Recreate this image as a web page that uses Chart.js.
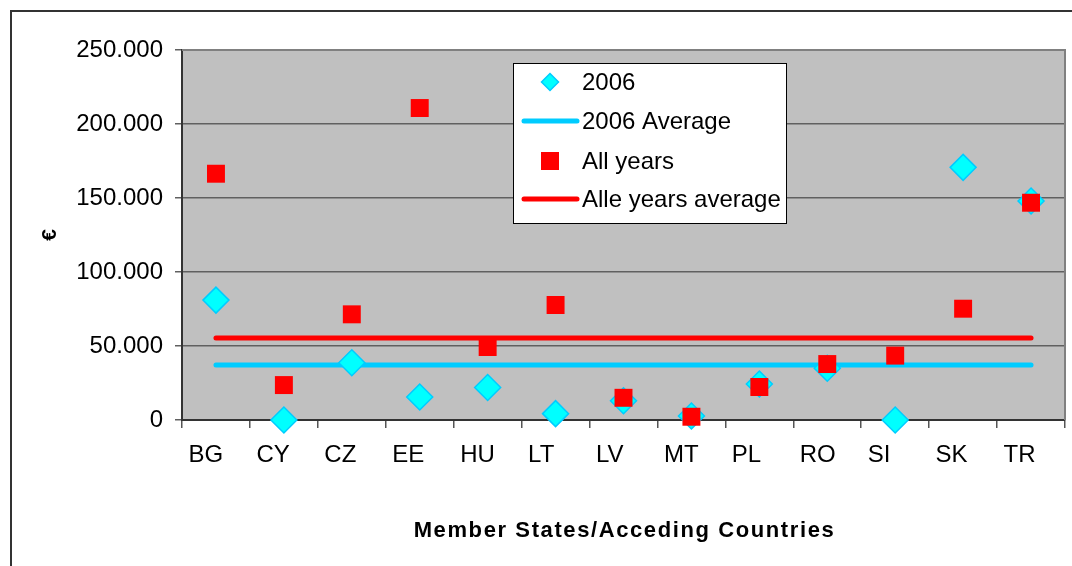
<!DOCTYPE html>
<html>
<head>
<meta charset="utf-8">
<script src="https://cdn.jsdelivr.net/npm/chart.js@4.4.1/dist/chart.umd.min.js"></script>
<style>
  html, body { margin: 0; padding: 0; background: #ffffff; }
  #wrap { width: 1072px; height: 566px; position: relative; }
</style>
</head>
<body>
<div id="wrap"><canvas id="c" width="1072" height="566"></canvas></div>
<script>
const categories = ['BG', 'CY', 'CZ', 'EE', 'HU', 'LT', 'LV', 'MT', 'PL', 'RO', 'SI', 'SK', 'TR'];
const values2006 = [81000, 0, 38700, 15500, 22000, 4300, 13000, 2700, 24300, 35000, 0, 170700, 148000];
const valuesAllYears = [166400, 23600, 71400, 210800, 49300, 77700, 15000, 2200, 22300, 37800, 43500, 75200, 146800];
const average2006 = [37200, 37200, 37200, 37200, 37200, 37200, 37200, 37200, 37200, 37200, 37200, 37200, 37200];
const averageAllYears = [55400, 55400, 55400, 55400, 55400, 55400, 55400, 55400, 55400, 55400, 55400, 55400, 55400];
const labels = ['2006', '2006 Average', 'All years', 'Alle years average'];
const xTitle = 'Member States/Acceding Countries';
const yTitle = '€';

const FONT = "'Liberation Sans', Arial, sans-serif";
const CYAN = '#00FFFF';
const CYAN_EDGE = '#00CCFF';
const BLUE_LINE = '#00CCFF';
const RED = '#FF0000';

function fmt(v) {
  return String(v).replace(/\B(?=(\d{3})+(?!\d))/g, '.');
}

const framePlugin = {
  id: 'frame',
  beforeDraw(chart) {
    const ctx = chart.ctx;
    const a = chart.chartArea;
    ctx.save();
    ctx.fillStyle = '#C0C0C0';
    ctx.fillRect(a.left, a.top, a.right - a.left, a.bottom - a.top);
    ctx.strokeStyle = '#333333';
    ctx.lineWidth = 2;
    ctx.beginPath();
    ctx.moveTo(11, 566);
    ctx.lineTo(11, 11);
    ctx.lineTo(1072, 11);
    ctx.stroke();
    ctx.restore();
  },
  beforeDatasetsDraw(chart) {
    const ctx = chart.ctx;
    const a = chart.chartArea;
    ctx.save();
    ctx.strokeStyle = '#808080';
    ctx.lineWidth = 2;
    ctx.beginPath();
    ctx.moveTo(a.left, a.top);
    ctx.lineTo(a.right, a.top);
    ctx.lineTo(a.right, a.bottom);
    ctx.stroke();
    ctx.restore();
  },
  afterDraw(chart) {
    const ctx = chart.ctx;
    const a = chart.chartArea;
    ctx.save();
    ctx.fillStyle = '#000000';
    ctx.font = 'bold 22px ' + FONT;
    ctx.textAlign = 'center';
    ctx.textBaseline = 'middle';
    try { ctx.letterSpacing = '1.6px'; } catch (e) {}
    ctx.fillText(xTitle, (a.left + a.right) / 2 + 1, 531);
    try { ctx.letterSpacing = '0px'; } catch (e) {}
    ctx.translate(50, (a.top + a.bottom) / 2);
    ctx.rotate(-Math.PI / 2);
    ctx.font = 'bold 21px ' + FONT;
    ctx.fillText(yTitle, 0, 0);
    ctx.restore();
  }
};

const legendPlugin = {
  id: 'insideLegend',
  afterDraw(chart) {
    const ctx = chart.ctx;
    ctx.save();
    const bx = 513, by = 63, bw = 274, bh = 161;
    ctx.fillStyle = '#ffffff';
    ctx.fillRect(bx, by, bw, bh);
    ctx.strokeStyle = '#000000';
    ctx.lineWidth = 1;
    ctx.strokeRect(bx + 0.5, by + 0.5, bw - 1, bh - 1);
    const rows = [82, 121, 161, 199];
    const sx = 550;
    ctx.beginPath();
    ctx.moveTo(sx, rows[0] - 8.5);
    ctx.lineTo(sx + 8.5, rows[0]);
    ctx.lineTo(sx, rows[0] + 8.5);
    ctx.lineTo(sx - 8.5, rows[0]);
    ctx.closePath();
    ctx.fillStyle = CYAN;
    ctx.fill();
    ctx.strokeStyle = CYAN_EDGE;
    ctx.lineWidth = 1.5;
    ctx.stroke();
    ctx.lineCap = 'round';
    ctx.lineWidth = 5;
    ctx.strokeStyle = BLUE_LINE;
    ctx.beginPath(); ctx.moveTo(524, rows[1]); ctx.lineTo(577, rows[1]); ctx.stroke();
    ctx.strokeStyle = RED;
    ctx.beginPath(); ctx.moveTo(524, rows[3]); ctx.lineTo(577, rows[3]); ctx.stroke();
    ctx.fillStyle = RED;
    ctx.fillRect(sx - 9, rows[2] - 9, 18, 18);
    ctx.fillStyle = '#000000';
    ctx.font = '24px ' + FONT;
    ctx.textBaseline = 'middle';
    ctx.textAlign = 'left';
    for (let i = 0; i < labels.length; i++) {
      ctx.fillText(labels[i], 582, rows[i] + 1);
    }
    ctx.restore();
  }
};

new Chart(document.getElementById('c'), {
  type: 'line',
  data: {
    labels: categories,
    datasets: [
      {
        label: labels[2],
        data: valuesAllYears,
        showLine: false,
        clip: false,
        pointStyle: 'rect',
        pointRadius: 12.7,
        pointBackgroundColor: RED,
        pointBorderColor: RED,
        pointBorderWidth: 0,
        order: 0
      },
      {
        label: labels[0],
        data: values2006,
        showLine: false,
        clip: false,
        pointStyle: 'rectRot',
        pointRadius: 13,
        pointBackgroundColor: CYAN,
        pointBorderColor: CYAN_EDGE,
        pointBorderWidth: 1.5,
        order: 1
      },
      {
        label: labels[3],
        data: averageAllYears,
        borderColor: RED,
        borderWidth: 5,
        borderCapStyle: 'round',
        pointRadius: 0,
        fill: false,
        order: 2
      },
      {
        label: labels[1],
        data: average2006,
        borderColor: BLUE_LINE,
        borderWidth: 5,
        borderCapStyle: 'round',
        pointRadius: 0,
        fill: false,
        order: 3
      }
    ]
  },
  options: {
    responsive: false,
    animation: false,
    devicePixelRatio: 1,
    layout: { autoPadding: false, padding: { top: 50, right: 7, left: 0, bottom: 0 } },
    plugins: {
      legend: { display: false },
      tooltip: { enabled: false },
      title: { display: false }
    },
    elements: { line: { tension: 0 } },
    scales: {
      x: {
        type: 'category',
        offset: true,
        grid: {
          offset: true,
          drawOnChartArea: false,
          drawTicks: true,
          tickLength: 8,
          color: '#555555',
          lineWidth: 1.5
        },
        border: { display: true, color: '#333333', width: 2 },
        ticks: {
          autoSkip: false,
          maxRotation: 0,
          minRotation: 0,
          align: 'start',
          labelOffset: -27.5,
          padding: 13,
          color: '#000000',
          font: { family: FONT, size: 24 }
        },
        title: { display: false },
        afterFit(scale) {
          scale.height = 146;
          scale.paddingLeft = 0;
          scale.paddingRight = 0;
        }
      },
      y: {
        min: 0,
        max: 250000,
        grid: {
          drawOnChartArea: true,
          drawTicks: true,
          tickLength: 7,
          color: '#606060',
          lineWidth: 1.5
        },
        border: { display: true, color: '#333333', width: 2 },
        ticks: {
          stepSize: 50000,
          padding: 12,
          color: '#000000',
          font: { family: FONT, size: 24 },
          callback: (v) => fmt(v)
        },
        title: { display: false },
        afterFit(scale) { scale.width = 182; }
      }
    }
  },
  plugins: [framePlugin, legendPlugin]
});
</script>
</body>
</html>
